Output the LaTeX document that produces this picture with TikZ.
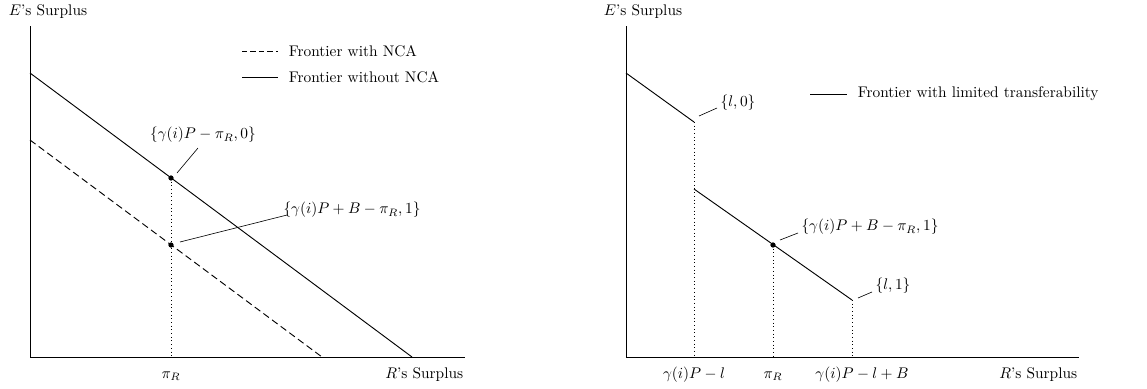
\documentclass[tikz,border=0pt]{standalone}
\usepackage{amsmath}
\usepackage{tikz}
\usetikzlibrary{positioning}

\begin{document}
\begin{tikzpicture}[
  x=0.65pt, y=0.65pt,
  axis/.style={semithick},
  frontier/.style={semithick},
  frontierdash/.style={semithick, dash pattern=on 4.5pt off 2.5pt},
  guide/.style={thin, dotted},
  leader/.style={thin},
  pt/.style={circle, fill, inner sep=0pt, minimum size=3.4pt},
  lbl/.style={font=\normalsize, inner sep=1pt},
]
\useasboundingbox (0,0) rectangle (1147,388);

% ---------- Left panel: frontiers with and without NCA ----------
\coordinate (oL) at (30,31);
\coordinate (yL) at (30,362);
\coordinate (xL) at (465,31);
\draw[axis] (yL) -- (oL) -- (xL);
\node[lbl, anchor=base west] (eL) at (7,373) {$E$'s Surplus};
\node[lbl, anchor=base east] (rL) at (465,10) {$R$'s Surplus};

% frontiers
\coordinate (s0) at (30,315);
\coordinate (s1) at (412,31);
\coordinate (d0) at (30,248);
\coordinate (d1) at (322,31);
\draw[frontier] (s0) -- (s1);
\draw[frontierdash] (d0) -- (d1);

% pi_R guide and points
\coordinate (ptA) at (171,210);
\coordinate (ptB) at (171,143);
\coordinate (piL) at (171,31);
\draw[guide] (ptA) -- (piL);
\node[pt] at (ptA) {};
\node[pt] at (ptB) {};
\node[lbl, anchor=base] (piLlbl) at (171,10) {$\pi_R$};

% point labels
\node[lbl] (labA) at (203,253) {$\{\gamma(i)P-\pi_R,0\}$};
\node[lbl] (labB) at (352,178) {$\{\gamma(i)P+B-\pi_R,1\}$};
\coordinate (lA0) at (177,215);
\coordinate (lA1) at (198,240);
\coordinate (lB0) at (180,146);
\coordinate (lB1) at (287,173);
\draw[leader] (lA0) -- (lA1);
\draw[leader] (lB0) -- (lB1);

% legend
\coordinate (g1a) at (242,337);
\coordinate (g1b) at (278,337);
\coordinate (g2a) at (242,311);
\coordinate (g2b) at (278,311);
\draw[frontierdash, dash pattern=on 3.5pt off 2pt] (g1a) -- (g1b);
\draw[frontier] (g2a) -- (g2b);
\node[lbl, anchor=west] (leg1) at (287,337) {Frontier with NCA};
\node[lbl, anchor=west] (leg2) at (287,311) {Frontier without NCA};

% ---------- Right panel: limited transferability ----------
\coordinate (oR) at (626,31);
\coordinate (yR) at (626,362);
\coordinate (xR) at (1079,31);
\draw[axis] (yR) -- (oR) -- (xR);
\node[lbl, anchor=base west] (eR) at (602,373) {$E$'s Surplus};
\node[lbl, anchor=base east] (rR) at (1079,10) {$R$'s Surplus};

% frontier pieces
\coordinate (p0) at (626,315);
\coordinate (p1) at (694,266);
\coordinate (p2) at (694,199);
\coordinate (p3) at (852,88);
\coordinate (ptC) at (773,143);
\draw[frontier] (p0) -- (p1);
\draw[frontier] (p2) -- (p3);

% guides
\coordinate (q1) at (694,31);
\coordinate (q2) at (773,31);
\coordinate (q3) at (852,31);
\draw[guide] (p1) -- (q1);
\draw[guide] (ptC) -- (q2);
\draw[guide] (p3) -- (q3);
\node[pt] at (ptC) {};

% axis ticks labels
\node[lbl, anchor=base] (t1) at (694,10) {$\gamma(i)P-l$};
\node[lbl, anchor=base] (t2) at (773,10) {$\pi_R$};
\node[lbl, anchor=base] (t3) at (862,10) {$\gamma(i)P-l+B$};

% point labels
\node[lbl] (labL0) at (738,285) {$\{l,0\}$};
\node[lbl] (labC) at (870,161) {$\{\gamma(i)P+B-\pi_R,1\}$};
\node[lbl] (labL1) at (893,102) {$\{l,1\}$};
\coordinate (m0a) at (699,272);
\coordinate (m0b) at (717,280);
\coordinate (mCa) at (780,148);
\coordinate (mCb) at (798,155);
\coordinate (m1a) at (858,90);
\coordinate (m1b) at (872,96);
\draw[leader] (m0a) -- (m0b);
\draw[leader] (mCa) -- (mCb);
\draw[leader] (m1a) -- (m1b);

% legend
\coordinate (h1a) at (810,294);
\coordinate (h1b) at (847,294);
\draw[frontier] (h1a) -- (h1b);
\node[lbl, anchor=west] (leg3) at (856,294) {Frontier with limited transferability};

\end{tikzpicture}
\end{document}
